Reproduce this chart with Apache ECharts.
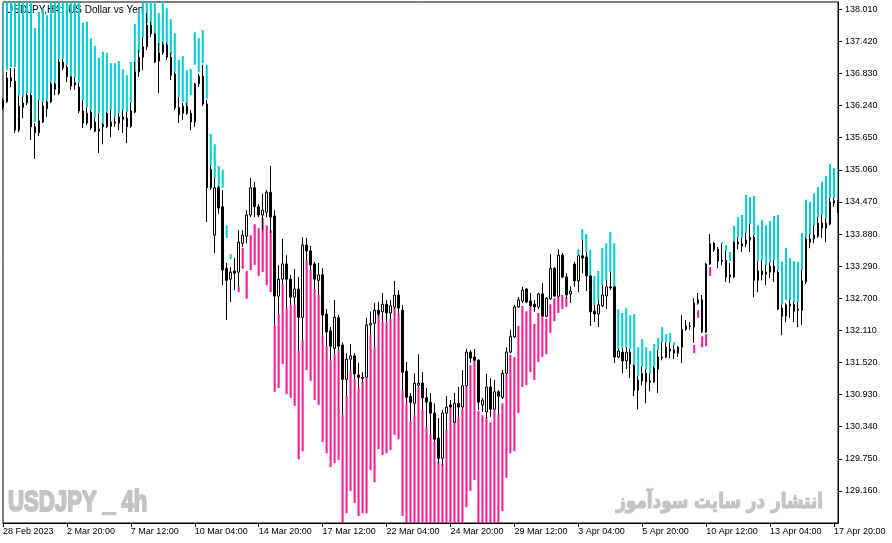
<!DOCTYPE html>
<html>
<head>
<meta charset="utf-8">
<script src="https://cdn.jsdelivr.net/npm/echarts@6/dist/echarts.min.js"></script>
<style>
  html, body { margin: 0; padding: 0; background: #fff; }
  #main { width: 892px; height: 543px; }
</style>
</head>
<body>
<div id="main"></div>
<script>
// USDJPY H4 candles: [open, close, low, high]
var candles = [
[136.34,136.21,136.16,136.38],[136.31,136.75,136.29,136.86],[136.75,136.69,136.58,136.93],[136.69,135.79,135.74,136.93],
[135.79,136.23,135.75,136.43],[136.21,136.29,136.01,136.40],[136.29,136.43,136.25,136.47],[136.43,135.85,135.61,136.47],
[135.85,135.74,135.26,135.92],[135.74,135.96,135.68,136.34],[135.94,136.23,135.92,136.31],[136.18,136.31,136.03,136.34],
[136.31,136.64,136.29,136.67],[136.64,136.54,136.43,136.67],[136.47,137.04,136.43,137.10],[137.04,136.93,136.89,137.10],
[136.95,136.77,136.67,136.99],[136.77,136.60,136.53,136.78],[136.62,136.66,136.53,136.75],[136.58,136.14,136.10,136.66],
[136.14,135.92,135.83,136.34],[135.92,136.10,135.88,136.21],[136.12,135.83,135.79,136.16],[135.94,135.77,135.75,136.01],
[135.81,135.77,135.37,136.10],[135.85,135.90,135.53,135.92],[136.10,135.85,135.83,136.12],[135.86,135.94,135.66,136.16],
[135.92,135.94,135.85,136.03],[135.92,136.03,135.79,136.10],[136.03,135.99,135.74,136.16],[136.01,135.85,135.55,136.12],
[135.86,136.14,135.83,136.29],[136.12,136.86,136.10,137.04],[136.86,137.13,136.77,137.26],[137.13,137.32,136.89,137.50],
[137.32,137.72,137.26,137.94],[137.72,137.56,137.50,137.78],[137.56,137.04,137.02,137.57],[137.06,137.21,136.47,137.39],
[137.21,137.37,137.17,137.41],[137.35,137.13,137.08,137.39],[137.13,136.80,136.71,137.21],[136.82,136.20,136.16,136.86],
[136.20,136.07,135.92,136.40],[136.10,136.23,135.98,136.29],[136.23,136.10,136.07,136.29],[136.10,135.94,135.79,136.16],
[135.94,136.64,135.85,136.66],[136.64,136.78,136.58,136.82],[136.78,136.27,136.23,136.99],[136.27,134.73,134.10,136.34],
[134.73,135.07,134.69,135.15],[133.86,134.73,133.53,134.91],[134.73,134.36,134.25,134.76],[134.38,133.22,132.94,134.69],
[133.25,133.03,132.30,133.35],[133.05,133.18,132.63,133.27],[133.20,133.16,132.85,133.44],[133.18,133.73,132.91,133.95],
[133.71,133.86,133.64,133.95],[133.84,134.23,133.71,134.32],[134.23,134.73,134.19,134.91],[134.73,134.38,134.19,134.84],
[134.38,134.23,134.19,134.43],[134.23,134.32,133.95,134.62],[134.28,134.65,134.19,134.69],[134.65,134.19,133.90,135.13],
[134.21,132.74,132.21,134.32],[132.74,133.05,132.41,133.31],[133.05,133.33,132.96,133.79],[133.33,133.05,132.52,133.49],
[133.05,132.72,132.58,133.13],[132.72,132.87,132.58,133.24],[132.87,132.35,131.73,133.09],[132.35,133.68,131.93,133.82],
[133.68,133.57,133.40,133.81],[133.57,133.31,133.22,133.66],[133.33,133.05,132.87,133.37],[133.03,133.13,132.76,133.35],
[133.13,132.39,132.02,133.25],[132.41,132.08,131.82,132.50],[132.10,131.82,131.56,132.17],[131.78,132.35,131.67,132.67],
[132.34,131.82,131.75,132.39],[131.84,131.21,130.55,131.89],[131.21,131.58,130.90,131.69],[131.58,131.64,131.36,131.86],
[131.64,131.31,131.21,131.69],[131.29,131.25,131.05,131.51],[131.25,131.23,131.16,131.34],[131.25,132.21,131.23,132.34],
[132.21,132.24,132.02,132.46],[132.24,132.48,131.80,132.61],[132.48,132.41,132.37,132.63],[132.45,132.59,132.28,132.80],
[132.59,132.43,132.26,132.67],[132.43,132.56,132.32,132.67],[132.54,132.76,132.50,133.02],[132.76,132.52,132.43,132.85],
[132.48,131.34,131.01,132.58],[131.36,130.88,130.77,131.53],[130.90,130.79,130.44,130.96],[130.77,131.14,130.55,131.32],
[131.10,131.14,131.07,131.67],[131.14,130.87,130.66,131.34],[130.87,130.79,130.33,131.05],[130.79,130.59,130.19,130.96],
[130.59,130.11,130.07,130.77],[130.13,129.76,129.67,130.50],[129.76,130.59,129.63,130.65],[130.59,130.70,130.28,130.90],
[130.74,130.70,130.68,130.83],[130.42,130.77,130.40,130.96],[130.77,130.70,130.52,131.07],[130.70,131.09,130.66,131.38],
[131.09,131.71,131.07,131.77],[131.71,131.60,131.51,131.75],[131.62,131.56,131.53,131.77],[131.56,130.79,130.65,131.58],
[130.74,130.83,130.61,130.87],[130.61,131.07,130.50,131.31],[131.07,130.66,130.52,131.23],[130.66,130.98,130.65,131.20],
[130.98,130.90,130.57,131.01],[130.88,131.32,130.85,131.38],[131.32,131.71,131.29,131.80],[131.71,132.00,131.69,132.12],
[131.99,132.54,131.97,132.58],[132.54,132.67,132.52,132.72],[132.65,132.85,132.61,132.91],[132.87,132.63,132.61,132.89],
[132.65,132.56,132.54,132.80],[132.59,132.54,132.45,132.67],[132.54,132.78,132.50,132.80],[132.78,132.37,132.35,132.98],
[132.37,132.70,132.35,132.72],[132.69,133.25,132.67,133.51],[133.25,132.74,132.72,133.27],[132.74,133.49,132.72,133.60],
[133.49,133.09,133.07,133.53],[133.09,132.76,132.70,133.16],[132.78,132.83,132.61,132.92],[133.33,133.02,132.91,133.37],
[133.02,133.48,132.81,133.49],[133.48,133.44,133.16,133.77],[133.46,133.11,132.83,133.55],[133.11,132.45,132.19,133.13],
[132.46,132.41,132.26,132.58],[132.41,132.58,132.17,132.67],[132.56,132.76,132.54,132.94],[132.74,132.91,132.50,133.03],
[132.91,132.89,132.85,133.18],[132.91,131.62,131.51,132.92],[131.62,131.73,131.60,131.77],[131.71,131.55,131.32,131.78],
[131.55,131.71,131.40,131.80],[131.71,131.49,131.23,131.77],[131.47,131.01,130.90,131.49],[131.01,131.20,130.66,131.27],
[131.18,131.32,131.10,131.44],[131.32,131.16,130.77,131.40],[131.18,131.16,130.99,131.32],[131.16,131.42,131.14,131.45],
[131.40,131.62,130.96,131.75],[131.62,131.61,131.56,131.89],[131.62,131.80,131.60,131.89],[131.77,131.73,131.60,131.88],
[131.75,131.69,131.58,131.84],[131.69,131.80,131.62,131.82],[131.80,132.13,131.51,132.39],[132.13,132.19,132.10,132.30],
[132.19,132.18,132.12,132.26],[132.17,132.61,131.88,132.70],[132.61,132.67,132.58,132.80],[132.67,132.08,132.06,132.76],
[132.08,133.33,132.06,133.35],[133.33,133.70,133.31,133.88],[133.71,133.59,133.55,133.73],[133.60,133.38,133.25,133.64],
[133.40,133.38,133.31,133.70],[133.40,133.09,133.00,133.57],[133.13,133.09,132.98,133.35],[133.09,133.73,133.07,133.75],
[133.73,133.70,133.60,133.82],[133.70,133.66,133.55,133.81],[133.70,133.77,133.64,133.90],[133.77,133.82,133.55,134.06],
[133.82,133.03,132.72,133.86],[133.03,133.20,132.81,133.38],[133.20,133.13,133.03,133.40],[133.14,133.18,132.94,133.31],
[133.18,133.29,133.07,133.35],[133.29,133.18,133.00,133.40],[133.18,132.50,132.48,133.22],[132.52,132.37,132.02,132.58],
[132.37,132.58,132.26,132.61],[132.59,132.56,132.34,132.67],[132.59,132.46,132.26,132.63],[132.50,132.48,132.17,132.63],
[132.48,133.02,132.21,133.22],[133.00,133.79,132.96,133.82],[133.79,133.73,133.62,133.88],[133.79,133.86,133.71,134.04],
[133.84,134.08,133.81,134.19],[134.08,133.99,133.81,134.23],[133.99,134.08,133.73,134.17],[134.06,134.47,134.04,134.54],
[134.49,134.45,134.38,134.54],[134.47,134.38,134.27,134.50]
];

// indicator histogram per bar: [top, bottom, side]  side 1 = up (cyan), -1 = down (pink), null = no bar
var bands = [
[138.40,136.86,1],[138.40,136.89,1],[138.40,136.95,1],[138.40,136.95,1],[138.40,136.43,1],[138.40,136.40,1],
[138.40,136.47,1],[138.40,136.47,1],[137.67,135.94,1],[137.96,136.34,1],[138.03,136.31,1],[137.90,136.34,1],
[138.40,136.67,1],[138.40,136.67,1],[138.40,137.10,1],[138.40,137.10,1],[138.40,136.99,1],[138.40,136.78,1],
[138.40,136.75,1],[138.40,136.66,1],[137.76,136.34,1],[137.78,136.21,1],[137.48,136.16,1],[137.34,136.01,1],
[137.12,136.10,1],[137.23,135.92,1],[137.21,136.12,1],[137.02,136.16,1],[137.02,136.03,1],[137.06,136.10,1],
[136.91,136.16,1],[136.80,136.12,1],[137.04,136.29,1],[137.74,136.86,1],[137.98,137.21,1],[138.13,137.50,1],
[138.40,137.76,1],[138.40,137.72,1],[138.40,137.57,1],[137.94,137.23,1],[138.40,137.39,1],[138.03,137.35,1],
[137.83,137.17,1],[137.57,136.86,1],[137.08,136.40,1],[137.15,136.31,1],[136.89,136.25,1],[136.91,136.43,1],
[137.59,136.99,1],[137.48,136.86,1],[137.63,137.02,1],[136.99,136.36,1],[135.72,135.15,1],[135.53,134.91,1],
[135.13,134.73,1],[135.06,134.73,1],[134.04,133.81,1],[133.51,133.42,1],null,[132.91,132.81,-1],
[133.62,133.24,-1],[133.20,132.69,-1],[133.86,133.22,-1],[134.06,133.31,-1],[133.99,133.11,-1],[134.17,133.18,-1],
[134.04,132.94,-1],[133.95,132.81,-1],[132.21,130.98,-1],[132.41,131.05,-1],[132.96,131.49,-1],[132.52,130.94,-1],
[132.58,130.87,-1],[132.58,130.72,-1],[131.73,129.74,-1],[131.93,129.89,-1],[133.40,131.38,-1],[133.22,131.18,-1],
[132.87,130.83,-1],[132.76,130.74,-1],[132.02,130.06,-1],[131.82,129.85,-1],[131.56,129.60,-1],[131.67,129.67,-1],
[131.75,129.73,-1],[130.55,128.40,-1],[130.90,128.75,-1],[131.36,129.16,-1],[131.21,128.94,-1],[131.05,128.70,-1],
[131.16,128.75,-1],[131.23,128.75,-1],[132.02,129.54,-1],[131.80,129.32,-1],[132.41,129.93,-1],[132.28,129.82,-1],
[132.26,129.85,-1],[132.32,129.91,-1],[132.54,130.19,-1],[132.43,130.11,-1],[131.01,128.70,-1],[130.77,128.40,-1],
[130.44,128.40,-1],[130.55,128.40,-1],[131.07,128.40,-1],[130.66,128.40,-1],[130.33,128.40,-1],[130.19,128.40,-1],
[130.07,128.40,-1],[129.69,128.40,-1],[129.65,128.40,-1],[130.28,128.40,-1],[130.68,128.40,-1],[130.42,128.40,-1],
[130.52,128.40,-1],[130.66,128.40,-1],[131.07,128.86,-1],[131.47,129.16,-1],[131.53,129.36,-1],[130.63,128.40,-1],
[130.55,128.40,-1],[130.52,128.40,-1],[130.42,128.40,-1],[130.65,128.40,-1],[130.57,128.40,-1],[130.77,128.79,-1],
[131.29,129.40,-1],[131.66,129.85,-1],[131.62,129.89,-1],[132.19,130.59,-1],[132.56,131.07,-1],[132.46,131.10,-1],
[132.54,131.34,-1],[132.23,131.20,-1],[132.43,131.53,-1],[132.35,131.62,-1],[132.32,131.67,-1],[132.59,132.06,-1],
[132.70,132.28,-1],[132.74,132.43,-1],[132.76,132.50,-1],[132.72,132.54,-1],null,null,
[133.60,133.49,1],[133.97,133.77,1],[133.88,133.55,1],[133.59,133.13,1],[133.11,132.58,1],[133.20,132.67,1],
[133.62,132.94,1],[133.71,133.03,1],[133.92,133.18,1],[133.71,132.92,1],[132.50,131.77,1],[132.43,131.78,1],
[132.52,131.80,1],[132.39,131.77,1],[132.41,131.49,1],[131.80,131.27,1],[131.95,131.44,1],[131.80,131.40,1],
[131.73,131.32,1],[131.86,131.45,1],[131.97,131.75,1],[132.17,131.89,1],[132.04,131.89,1],[132.06,131.88,1],
[131.89,131.84,1],null,null,null,null,[131.84,131.69,-1],
[132.48,132.34,-1],[132.00,131.80,-1],[132.04,131.82,-1],[133.27,133.11,-1],null,null,
[133.73,133.70,1],[133.68,133.57,1],[133.55,133.38,1],[134.03,133.75,1],[134.19,133.82,1],[134.23,133.81,1],
[134.60,133.90,1],[134.56,134.06,1],[134.58,133.86,1],[134.04,133.38,1],[134.14,133.40,1],[134.04,133.31,1],
[134.12,133.35,1],[134.21,133.40,1],[134.23,133.22,1],[133.37,132.58,1],[133.62,132.67,1],[133.44,132.67,1],
[133.38,132.63,1],[133.37,132.63,1],[133.90,133.22,1],[134.51,133.82,1],[134.47,133.88,1],[134.63,134.04,1],
[134.74,134.19,1],[134.84,134.23,1],[134.95,134.17,1],[135.17,134.54,1],[135.09,134.54,1],[135.07,134.47,1]
];

// one time label every 16 bars
var tickLabels = ['28 Feb 2023','2 Mar 20:00','7 Mar 12:00','10 Mar 04:00','14 Mar 20:00','17 Mar 12:00',
  '22 Mar 04:00','24 Mar 20:00','29 Mar 12:00','3 Apr 04:00','5 Apr 20:00','10 Apr 12:00','13 Apr 04:00','17 Apr 20:00'];
var labelStep = 16;

var upColor = '#00CED1', downColor = '#FF1493', markColor = '#c4c4c4';
var axisFont = 'Liberation Sans';

showchart();

function showchart() {
    var categories = candles.map(function(c, i) {
        return i % labelStep === 0 ? tickLabels[i / labelStep] : '';
    });
    var bandData = [];
    bands.forEach(function(b, i) {
        if (b) bandData.push([i, b[0], b[1], b[2]]);
    });

    var myChart = echarts.init(document.getElementById('main'), null, { renderer: 'canvas' }),
        option = {
        animation: false,
        backgroundColor: '#fff',
        grid: { left: 2, top: 2, right: 54, bottom: 20, show: true, borderColor: '#000', borderWidth: 1 },
        xAxis: {
            type: 'category', data: categories, boundaryGap: false,
            axisLine: { lineStyle: { color: '#000', width: 1 } },
            axisTick: { interval: labelStep - 1, length: 4, lineStyle: { color: '#000' } },
            axisLabel: { interval: labelStep - 1, align: 'left', margin: 4, color: '#000', fontSize: 9, fontFamily: axisFont },
            splitLine: { show: false }
        },
        yAxis: {
            type: 'value', position: 'right', scale: true,
            min: 128.57, max: 138.144, interval: 0.59,
            axisLine: { show: true, lineStyle: { color: '#000', width: 1 } },
            axisTick: { show: true, length: 4, lineStyle: { color: '#000' } },
            axisLabel: {
                color: '#000', fontSize: 9, fontFamily: axisFont, margin: 7,
                showMinLabel: false, showMaxLabel: false,
                formatter: function(v) { return v.toFixed(3); }
            },
            splitLine: { show: false }
        },
        graphic: [
            { type: 'text', x: 6, y: 10, z: 0, style: { text: 'USDJPY,H4:  US Dollar vs Yen', fill: '#000',
                fontSize: 10, fontFamily: axisFont, verticalAlign: 'middle' } },
            // watermarks
            { type: 'text', x: 8, y: 503, z: 0, scaleX: 0.74, style: { text: 'USDJPY _ 4h', fill: markColor,
                stroke: markColor, lineWidth: 2, fontSize: 30, fontWeight: 'bold', fontFamily: axisFont,
                verticalAlign: 'middle' } },
            { type: 'text', x: 823, y: 503, z: 0, scaleX: 0.8, style: { text: 'انتشار در سایت سودآموز', fill: markColor,
                stroke: markColor, lineWidth: 1.2, fontSize: 21, fontWeight: 'bold', fontFamily: 'DejaVu Sans',
                align: 'right', verticalAlign: 'middle' } }
        ],
        series: [{
            name: 'bands', type: 'custom', z: 2, data: bandData,
            encode: { x: 0, y: [1, 2] },
            renderItem: function(params, api) {
                var i = api.value(0),
                    top = api.coord([i, api.value(1)]),
                    bot = api.coord([i, api.value(2)]),
                    cs = params.coordSys,
                    rect = echarts.graphic.clipRectByRect(
                        { x: top[0] - 1, y: top[1], width: 2, height: bot[1] - top[1] },
                        { x: cs.x, y: cs.y, width: cs.width, height: cs.height });
                if (!rect) return;
                return { type: 'rect', shape: rect,
                    style: { fill: api.value(3) > 0 ? upColor : downColor } };
            }
        }, {
            name: 'USDJPY', type: 'candlestick', z: 3, data: candles, barWidth: 2,
            itemStyle: { color: '#fff', color0: '#000', borderColor: '#000', borderColor0: '#000', borderWidth: 1 }
        }]
    };

    myChart.setOption(option);
}
</script>
</body>
</html>
